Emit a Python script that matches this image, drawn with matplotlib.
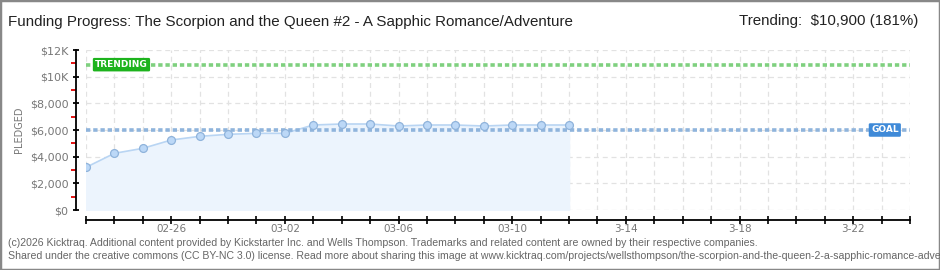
import matplotlib
matplotlib.use("Agg")
import matplotlib.pyplot as plt
from matplotlib.patches import Rectangle

# data
days = list(range(18))
pledged = [3200, 4250, 4625, 5250, 5525, 5675, 5750, 5750, 6375,
           6450, 6450, 6300, 6375, 6375, 6300, 6375, 6375, 6375]
n_days = 29
goal = 6000
trending = 10900
yticks = [0, 2000, 4000, 6000, 8000, 10000, 12000]
ylabels = ["$0", "$2,000", "$4,000", "$6,000", "$8,000", "$10K", "$12K"]
xlabel_days = [3, 7, 11, 15, 19, 23, 27]
xlabels = ["02-26", "03-02", "03-06", "03-10", "3-14", "3-18", "3-22"]

title = "Funding Progress: The Scorpion and the Queen #2 - A Sapphic Romance/Adventure"
trend_text = "Trending:  $10,900 (181%)"
footer1 = ("(c)2026 Kicktraq. Additional content provided by Kickstarter Inc. and Wells Thompson. "
           "Trademarks and related content are owned by their respective companies.")
footer2 = ("Shared under the creative commons (CC BY-NC 3.0) license. Read more about sharing this image at "
           "www.kicktraq.com/projects/wellsthompson/the-scorpion-and-the-queen-2-a-sapphic-romance-adventure/")

W, H = 940, 270
fig = plt.figure(figsize=(W / 100, H / 100), dpi=100)
fig.patch.set_facecolor("white")
fig.patches.append(Rectangle((0, 0), 1, 1, transform=fig.transFigure, fill=False,
                             edgecolor="#888888", linewidth=2.5))

ax = fig.add_axes([86 / W, (H - 210) / H, 824 / W, 160 / H])
ax.set_xlim(0, n_days)
ax.set_ylim(0, 12000)

# grid
ax.set_xticks(range(n_days + 1))
ax.set_yticks(yticks)
ax.grid(True, color="#e2e2e2", linestyle=(0, (4, 3)), linewidth=0.9)
ax.set_axisbelow(True)

ax.fill_between(days, pledged, color="#ecf4fd", zorder=1)
ax.plot(days, pledged, color="#b9d5f3", linewidth=1.2, zorder=2)
ax.scatter(days, pledged, s=32, color="#bcd8f7", edgecolors="#8fb3db", linewidths=0.9, zorder=4)

ax.axhline(goal, color="#8fb4dc", linestyle=(0, (1.2, 0.8)), linewidth=2.6, zorder=3)
ax.axhline(trending, color="#7fd07f", linestyle=(0, (1.2, 0.8)), linewidth=2.6, zorder=3)

ax.text(0.32, trending, "TRENDING", color="white", fontsize=6.5, fontweight="bold",
        va="center", ha="left", zorder=6, family="DejaVu Sans",
        bbox=dict(boxstyle="round,pad=0.25,rounding_size=0.15", fc="#1db31d", ec="none"))
ax.text(28.6, goal, "GOAL", color="white", fontsize=6.5, fontweight="bold",
        va="center", ha="right", zorder=6, family="DejaVu Sans",
        bbox=dict(boxstyle="round,pad=0.25,rounding_size=0.15", fc="#3f8ad8", ec="none"))

for s in ["top", "right"]:
    ax.spines[s].set_visible(False)
ax.spines["left"].set_position(("outward", 7.2))
ax.spines["bottom"].set_position(("outward", 7.2))
ax.spines["left"].set_linewidth(1.3)
ax.spines["bottom"].set_linewidth(1.3)
ax.spines["bottom"].set_bounds(0, n_days)

ax.set_yticklabels(ylabels, fontsize=8, color="#777777")
ax.tick_params(axis="y", length=5, width=1.3, direction="inout", pad=3)
ax.set_yticks([1000, 3000, 5000, 7000, 9000, 11000], minor=True)
ax.tick_params(axis="y", which="minor", length=3.5, width=1.3, color="#e00000", direction="out")

ax.set_xticklabels([""] * (n_days + 1))
ax.tick_params(axis="x", length=6, width=1.2, direction="inout")
for d, lab in zip(xlabel_days, xlabels):
    ax.text(d, -0.085, lab, transform=ax.get_xaxis_transform(), ha="center", va="top",
            fontsize=7.5, color="#777777")

ax.set_ylabel("PLEDGED", fontsize=7, color="#777777", labelpad=4)

fig.text(8 / W, 1 - 22 / H, title, fontsize=10.9, color="#222222", va="center", ha="left",
         family=["Liberation Sans Narrow", "Liberation Sans", "DejaVu Sans"])
fig.text(918 / W, 1 - 21 / H, trend_text, fontsize=10.9, color="#222222", va="center", ha="right",
         family=["Liberation Sans Narrow", "Liberation Sans", "DejaVu Sans"])
fig.text(8 / W, 1 - 243 / H, footer1, fontsize=7.6, color="#666666", va="center", ha="left",
         family=["Liberation Sans", "DejaVu Sans"])
fig.text(8 / W, 1 - 256 / H, footer2, fontsize=7.6, color="#666666", va="center", ha="left",
         family=["Liberation Sans", "DejaVu Sans"])

fig.savefig("out.png", dpi=100)
